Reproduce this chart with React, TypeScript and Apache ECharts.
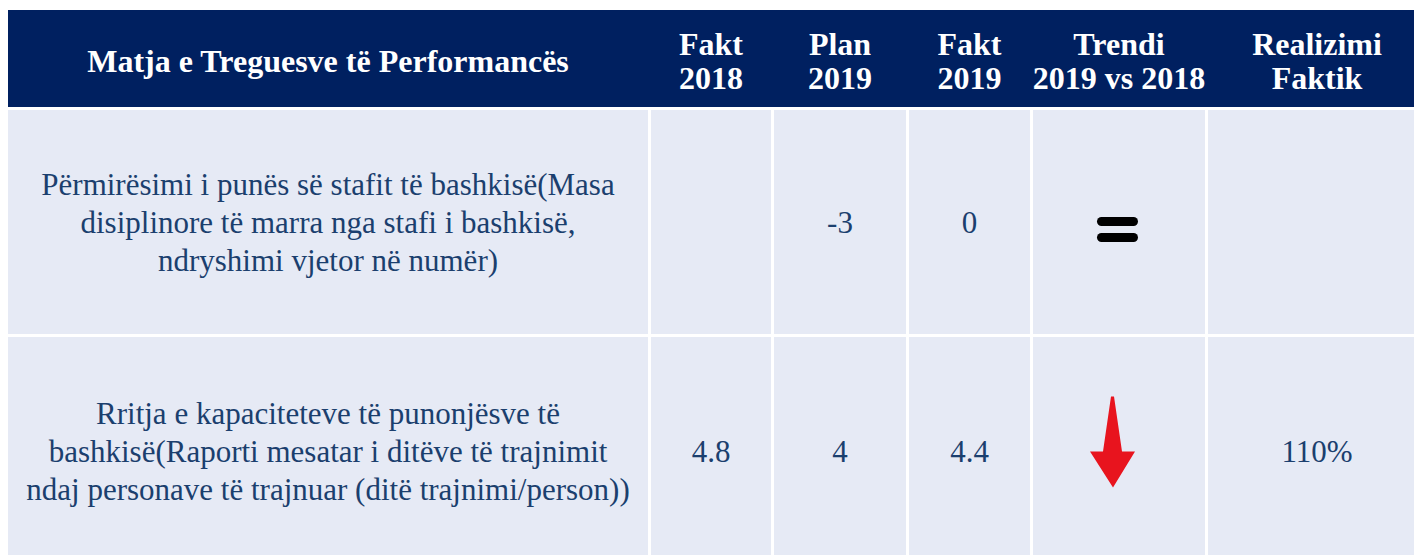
import React, { useEffect, useRef } from "react";
import * as echarts from "echarts";

const headers = [
  "Matja e Treguesve të Performancës",
  "Fakt\n2018",
  "Plan\n2019",
  "Fakt\n2019",
  "Trendi\n2019 vs 2018",
  "Realizimi\nFaktik",
];
const indicators = [
  "Përmirësimi i punës së stafit të bashkisë(Masa\ndisiplinore të marra nga stafi i bashkisë,\nndryshimi vjetor në numër)",
  "Rritja e kapaciteteve të punonjësve të\nbashkisë(Raporti mesatar i ditëve të trajnimit\nndaj personave të trajnuar (ditë trajnimi/person))",
];
const fakt2018 = ["", "4.8"];
const plan2019 = ["-3", "4"];
const fakt2019 = ["0", "4.4"];
const trend = ["equal", "down"];
const realizimi = ["", "110%"];

// layout
const colEdges = [8, 648, 771, 906, 1030, 1205, 1426];
const gap = 3;
const headerTop = 10;
const headerBottom = 107;
const rowEdges = [107, 334, 566];

const NAVY = "#002060";
const CELL = "#E6EAF5";
const TEXT = "#1B3F6E";
const SERIF = '"Liberation Serif", "Times New Roman", serif';

export default function App() {
  const ref = useRef<HTMLDivElement>(null);
  useEffect(() => {
    document.body.style.margin = "0";
    const chart = echarts.init(ref.current!, null, { renderer: "svg" });
    const els: any[] = [];
    els.push({ type: "rect", shape: { x: 0, y: 0, width: 1414, height: 555 }, style: { fill: "#ffffff" } });
    els.push({
      type: "rect",
      shape: { x: colEdges[0], y: headerTop, width: colEdges[colEdges.length - 1] - colEdges[0], height: headerBottom - headerTop },
      style: { fill: NAVY },
    });
    const colCenter = (c: number) => (colEdges[c] + (c === 0 ? 0 : gap) + colEdges[c + 1]) / 2;
    headers.forEach((h, c) => {
      els.push({
        type: "text",
        x: colCenter(c),
        y: (headerTop + headerBottom) / 2 + 2,
        style: {
          text: h,
          fill: "#ffffff",
          fontFamily: SERIF,
          fontWeight: "bold",
          fontSize: 32,
          lineHeight: 34,
          align: "center",
          verticalAlign: "middle",
          textAlign: "center",
          textVerticalAlign: "middle",
        },
      });
    });
    const columns = [indicators, fakt2018, plan2019, fakt2019, trend, realizimi];
    for (let r = 0; r < indicators.length; r++) {
      const top = rowEdges[r] + gap;
      const bottom = rowEdges[r + 1];
      const cy = (top + bottom) / 2;
      for (let c = 0; c < columns.length; c++) {
        const left = colEdges[c] + (c === 0 ? 0 : gap);
        const right = colEdges[c + 1];
        els.push({ type: "rect", shape: { x: left, y: top, width: right - left, height: bottom - top }, style: { fill: CELL } });
        const cx = (left + right) / 2;
        if (c === 4) {
          const t = columns[c][r];
          if (t === "equal") {
            els.push({ type: "rect", shape: { x: cx - 22, y: cy - 5, width: 41, height: 9, r: 4.5 }, style: { fill: "#000000" } });
            els.push({ type: "rect", shape: { x: cx - 22, y: cy + 11, width: 41, height: 9, r: 4.5 }, style: { fill: "#000000" } });
          } else if (t === "down") {
            els.push({
              type: "polygon",
              shape: {
                points: [
                  [cx - 8, cy - 55],
                  [cx - 5, cy - 55],
                  [cx + 3, cy],
                  [cx + 16, cy],
                  [cx - 6, cy + 36],
                  [cx - 29, cy],
                  [cx - 16, cy],
                ],
              },
              style: { fill: "#E8141E" },
            });
          }
        } else {
          els.push({
            type: "text",
            x: cx,
            y: cy,
            style: {
              text: columns[c][r],
              fill: TEXT,
              fontFamily: SERIF,
              fontSize: 31,
              lineHeight: 38,
              align: "center",
              verticalAlign: "middle",
              textAlign: "center",
              textVerticalAlign: "middle",
            },
          });
        }
      }
    }
    chart.setOption({ animation: false, graphic: { elements: els } });
    return () => chart.dispose();
  }, []);
  return <div ref={ref} style={{ width: 1414, height: 555 }} />;
}
